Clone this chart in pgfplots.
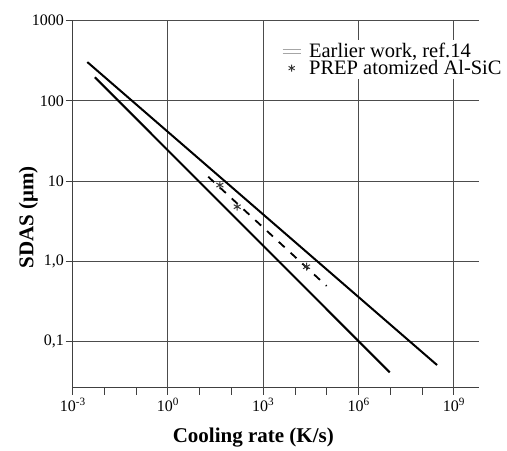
\documentclass[border=0pt]{standalone}
\usepackage{fontspec}
\setmainfont{Liberation Serif}
\usepackage{pgfplots}
\pgfplotsset{compat=1.18}
\begin{document}
\begin{tikzpicture}
\begin{axis}[
  scale only axis, width=406.3bp, height=367bp,
  xmode=log, ymode=log,
  xmin=1e-3, xmax=6.17e9, ymin=0.0264, ymax=1000,
  axis x line*=bottom, axis y line*=left,
  axis line style={black!75, line width=1bp},
  xtick={1e-3,1e-2,1e-1,1,1e1,1e2,1e3,1e4,1e5,1e6,1e7,1e8,1e9},
  xticklabels={10\textsuperscript{-3},,,10\textsuperscript{0},,,10\textsuperscript{3},,,10\textsuperscript{6},,,10\textsuperscript{9}},
  ytick={0.1,1,10,100,1000},
  yticklabels={{0,1},{1,0},10,100,1000},
  xminorticks=false, yminorticks=false,
  xmajorgrids=false, ymajorgrids=true,
  extra x ticks={1,1e3,1e6,1e9},
  extra x tick labels={},
  extra x tick style={grid=major},
  grid style={black!70, line width=1bp},
  tick align=outside, major tick length=7bp,
  tick style={black!75, line width=1bp},
  tick label style={font=\fontsize{16bp}{18bp}\selectfont},
  yticklabel style={inner sep=1.5bp},
  every axis x label/.style={at={(axis description cs:0.4445,-0.1499)}, anchor=base, font=\fontsize{21bp}{24bp}\selectfont\bfseries},
  every axis y label/.style={at={(axis description cs:-0.097,0.464)}, anchor=base, rotate=90, font=\fontsize{21bp}{24bp}\selectfont\bfseries},
  xlabel={Cooling rate (K/s)},
  ylabel={SDAS (μm)},
  legend style={at={(axis description cs:0.5078,0.947)}, anchor=north west, draw=none, fill=white,
    font=\fontsize{20.5bp}{20bp}\selectfont, inner sep=3bp, nodes={inner sep=0pt}, row sep=1bp, column sep=8bp},
  legend cell align=left,
]
\addplot[black, line width=2bp, forget plot] coordinates {(2.88e-3,305) (2.95e8,0.0506)};
\addplot[black, line width=2bp,
  legend image code/.code={\draw[black!35, line width=0.9bp] (0bp,1.8bp) -- (18bp,1.8bp); \draw[black!35, line width=0.9bp] (0bp,-1.8bp) -- (18bp,-1.8bp);}]
  coordinates {(5.0e-3,197) (9.55e6,0.041)};
\addlegendentry{Earlier work, ref.14}
\addplot[black, line width=1.8bp, dash pattern=on 8bp off 8bp, forget plot] coordinates {(18.5,11.3) (98400,0.49)};
\addplot[only marks, mark=asterisk, mark size=4bp, black!80, mark options={line width=1bp},
  legend image code/.code={\draw[mark=asterisk, mark size=3.5bp, mark options={line width=0.9bp}] plot coordinates {(9bp,0bp)};}]
  coordinates {(43,8.9) (151,4.78) (23000,0.853)};
\addlegendentry{PREP atomized Al-SiC}
\coordinate (sw) at (rel axis cs:0,0);
\coordinate (ne) at (rel axis cs:1,1);
\end{axis}
\path ([shift={(-72.7bp,-59.3bp)}]sw) rectangle ([shift={(28bp,20.7bp)}]ne);
\end{tikzpicture}
\end{document}
